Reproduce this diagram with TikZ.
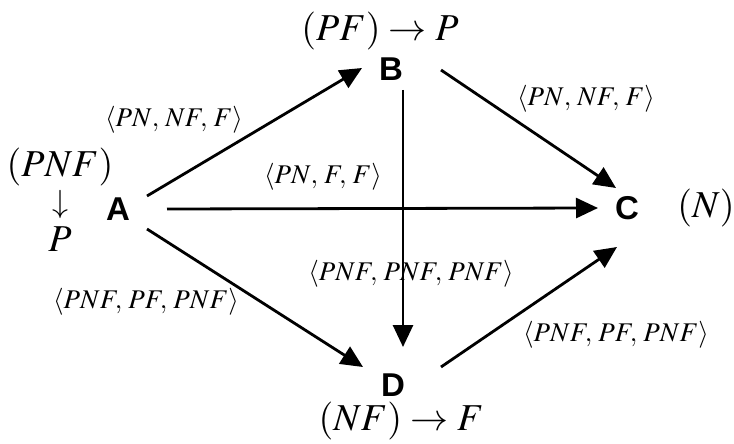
\documentclass[tikz,border=0pt]{standalone}
\usepackage{mathptmx}
\usepackage[no-math]{fontspec}
\newfontfamily\vertexfont{Liberation Sans}
\usepackage{tikz}
\usetikzlibrary{arrows.meta, calc}

\begin{document}
\begin{tikzpicture}[x=0.5pt, y=-0.5pt,
        vertex/.style={font=\vertexfont\bfseries\fontsize{16.5}{18}\selectfont, inner sep=0pt},
        trip/.style={font=\fontsize{13.5}{16}\selectfont, inner sep=0pt},
        big/.style={font=\fontsize{19}{22}\selectfont, inner sep=0pt},
        arr/.style={-{Triangle[length=11pt, width=10pt]}, line width=1.4pt}]
    \useasboundingbox (0,0) rectangle (734,444);
    % the four vertices
    \node[vertex] (A) at (118,209) {A};
    \node[vertex] (B) at (391,69) {B};
    \node[vertex] (C) at (627,208) {C};
    \node[vertex] (D) at (393,385) {D};
    % what sits next to them
    \node[big] (fA) at (60,167) {$(PNF)$};
    \node[big, font=\fontsize{16}{18}\selectfont] (dA) at (60,204) {$\downarrow$};
    \node[big] (pA) at (60,239) {$P$};
    \node[big] (fB) at (380,31) {$(PF)\rightarrow P$};
    \node[big] (fC) at (706,208) {$(N)$};
    \node[big] (fD) at (401,421) {$(NF)\rightarrow F$};
    % edges
    \draw[arr] ([shift={(29,-13)}]A.center) -- ([shift={(-29,-1)}]B.center);
    \draw[arr] ([shift={(49,0)}]A.center) -- ([shift={(-29,0)}]C.center);
    \draw[arr] ([shift={(29,20)}]A.center) -- ([shift={(-30,-18)}]D.center);
    \draw[arr] ([shift={(50,1)}]B.center) -- ([shift={(-11,-20)}]C.center);
    \draw[arr] ([shift={(12,21)}]B.center) -- ([shift={(10,-38)}]D.center);
    \draw[arr] ([shift={(48,-18)}]D.center) -- ([shift={(-10,39)}]C.center);
    % edge labels
    \node[trip] (lAB) at (174,120) {$\langle PN,\, NF,\, F\rangle$};
    \node[trip] (lAC) at (323,177) {$\langle PN,\, F,\, F\rangle$};
    \node[trip] (lBC) at (586,99) {$\langle PN,\, NF,\, F\rangle$};
    \node[trip] (lBD) at (411,274) {$\langle PNF,\, PNF,\, PNF\rangle$};
    \node[trip] (lAD) at (146,302) {$\langle PNF,\, PF,\, PNF\rangle$};
    \node[trip] (lDC) at (616,335) {$\langle PNF,\, PF,\, PNF\rangle$};
\end{tikzpicture}
\end{document}
